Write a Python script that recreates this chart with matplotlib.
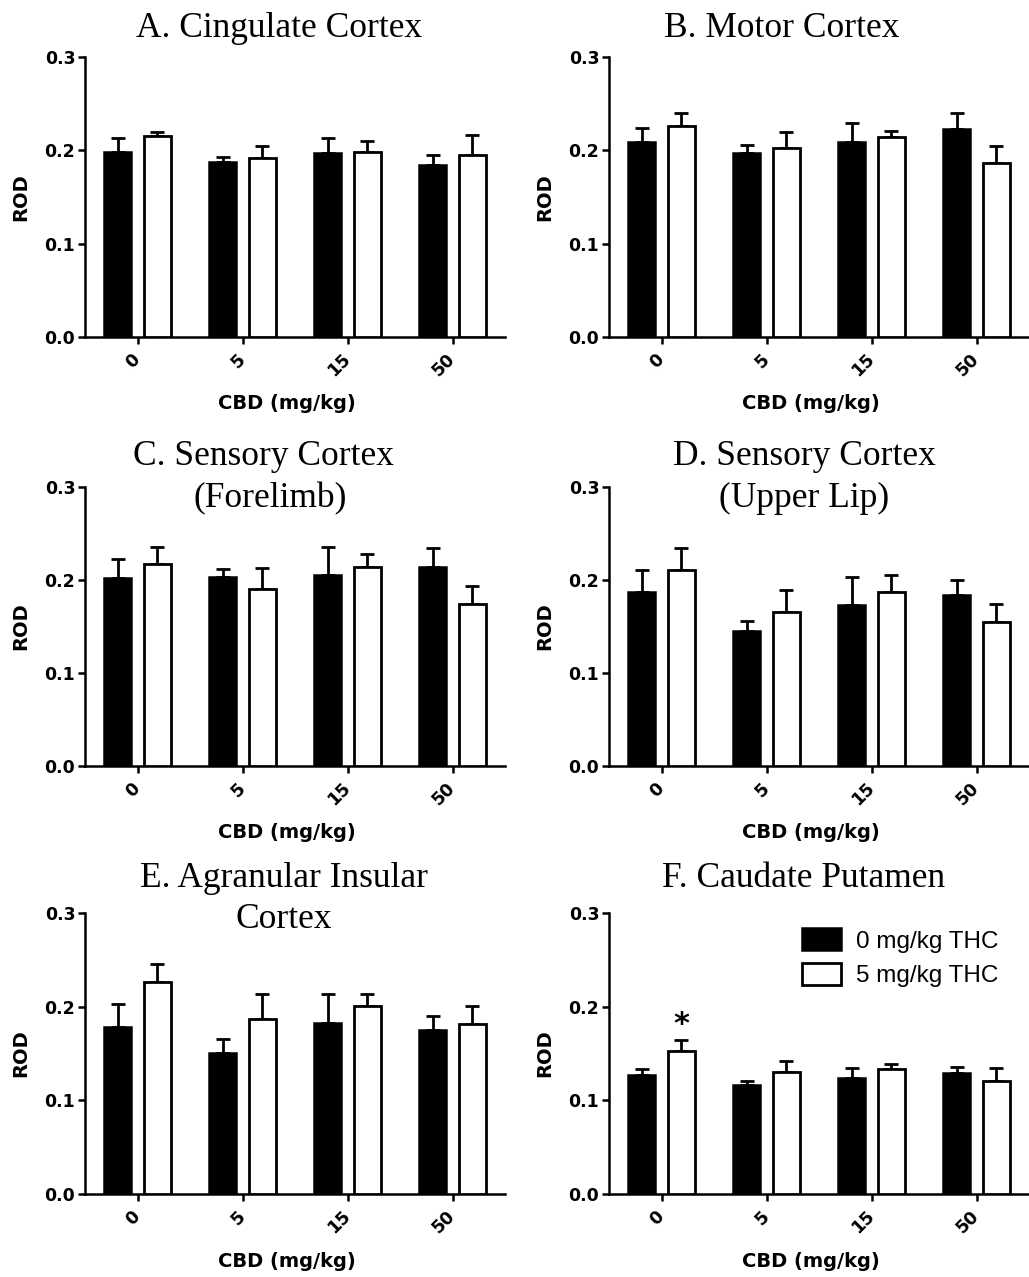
import numpy as np
import matplotlib.pyplot as plt

# CBD doses on the x axis
cbd_doses = ['0', '5', '15', '50']

# A. Cingulate cortex
cingulate_thc0 = [0.198, 0.187, 0.197, 0.184]
cingulate_thc0_sem = [0.015, 0.006, 0.016, 0.011]
cingulate_thc5 = [0.215, 0.192, 0.198, 0.195]
cingulate_thc5_sem = [0.005, 0.013, 0.012, 0.021]

# B. Motor cortex
motor_thc0 = [0.209, 0.197, 0.209, 0.223]
motor_thc0_sem = [0.015, 0.009, 0.020, 0.017]
motor_thc5 = [0.226, 0.202, 0.214, 0.186]
motor_thc5_sem = [0.014, 0.018, 0.007, 0.019]

# C. Sensory cortex (forelimb)
forelimb_thc0 = [0.202, 0.203, 0.205, 0.214]
forelimb_thc0_sem = [0.021, 0.009, 0.031, 0.020]
forelimb_thc5 = [0.217, 0.190, 0.214, 0.174]
forelimb_thc5_sem = [0.019, 0.023, 0.014, 0.020]

# D. Sensory cortex (upper lip)
lip_thc0 = [0.187, 0.145, 0.173, 0.184]
lip_thc0_sem = [0.024, 0.011, 0.030, 0.016]
lip_thc5 = [0.211, 0.166, 0.187, 0.155]
lip_thc5_sem = [0.023, 0.023, 0.018, 0.019]

# E. Agranular insular cortex
insular_thc0 = [0.178, 0.151, 0.183, 0.175]
insular_thc0_sem = [0.025, 0.014, 0.030, 0.015]
insular_thc5 = [0.226, 0.187, 0.201, 0.181]
insular_thc5_sem = [0.020, 0.026, 0.013, 0.020]

# F. Caudate putamen
caudate_thc0 = [0.127, 0.116, 0.124, 0.129]
caudate_thc0_sem = [0.006, 0.005, 0.011, 0.007]
caudate_thc5 = [0.153, 0.130, 0.133, 0.121]
caudate_thc5_sem = [0.011, 0.012, 0.006, 0.013]

legend_labels = ['0 mg/kg THC', '5 mg/kg THC']

W, H = 1029, 1277
fig = plt.figure(figsize=(W / 100, H / 100), dpi=100)

# axes boxes in pixels: left, top, bottom (width 420 for all)
boxes = [(85, 57, 337), (609, 57, 337),
         (85, 487, 766), (609, 487, 766),
         (85, 913, 1194), (609, 913, 1194)]

panels = [
    (cingulate_thc0, cingulate_thc0_sem, cingulate_thc5, cingulate_thc5_sem),
    (motor_thc0, motor_thc0_sem, motor_thc5, motor_thc5_sem),
    (forelimb_thc0, forelimb_thc0_sem, forelimb_thc5, forelimb_thc5_sem),
    (lip_thc0, lip_thc0_sem, lip_thc5, lip_thc5_sem),
    (insular_thc0, insular_thc0_sem, insular_thc5, insular_thc5_sem),
    (caudate_thc0, caudate_thc0_sem, caudate_thc5, caudate_thc5_sem),
]

# title lines: text, center x, baseline y (pixels)
titles = [
    [('A. Cingulate Cortex', 279, 37)],
    [('B. Motor Cortex', 782, 37)],
    [('C. Sensory Cortex', 263, 465), ('(Forelimb)', 270, 507)],
    [('D. Sensory Cortex', 804, 465), ('(Upper Lip)', 804, 507)],
    [('E. Agranular Insular', 284, 887), ('Cortex', 284, 928)],
    [('F. Caudate Putamen', 804, 887)],
]

bold = dict(family='DejaVu Sans', weight='bold')
x = np.arange(len(cbd_doses))
off = 0.19
bw = 0.262

for i, (box, data) in enumerate(zip(boxes, panels)):
    left, top, bottom = box
    ax = fig.add_axes([left / W, 1 - bottom / H, 420 / W, (bottom - top) / H])
    m0, e0, m5, e5 = data
    ax.bar(x - off, m0, bw, color='black', edgecolor='black', linewidth=1.8,
           label=legend_labels[0], zorder=3)
    ax.bar(x + off, m5, bw, color='white', edgecolor='black', linewidth=2.0,
           label=legend_labels[1], zorder=3)
    ax.errorbar(x - off, m0, yerr=[np.zeros(4), e0], fmt='none', ecolor='black',
                elinewidth=2.0, capsize=5, capthick=2.0, zorder=2)
    ax.errorbar(x + off, m5, yerr=[np.zeros(4), e5], fmt='none', ecolor='black',
                elinewidth=2.0, capsize=5, capthick=2.0, zorder=2)

    ax.set_xlim(-0.5, 3.5)
    ax.set_ylim(0, 0.3)
    ax.set_yticks([0, 0.1, 0.2, 0.3])
    ax.set_yticklabels(['0.0', '0.1', '0.2', '0.3'], fontsize=12.5, **bold)
    ax.set_xticks(x)
    ax.set_xticklabels(cbd_doses, fontsize=12.5, rotation=45, ha='right', va='center',
                       rotation_mode='anchor', **bold)
    for s in ['top', 'right']:
        ax.spines[s].set_visible(False)
    for s in ['left', 'bottom']:
        ax.spines[s].set_linewidth(1.8)
    ax.tick_params(axis='both', direction='out', length=5, width=1.8)
    ax.tick_params(axis='y', pad=2)
    ax.tick_params(axis='x', pad=9)

    ax.set_ylabel('ROD', fontsize=14, **bold)
    ax.yaxis.set_label_coords(-0.13, 0.5)
    ax.set_xlabel('CBD (mg/kg)', fontsize=14, **bold)
    ax.xaxis.set_label_coords(0.48, -0.205)

    for txt, cx, base in titles[i]:
        fig.text(cx / W, 1 - base / H, txt, ha='center', va='baseline',
                 fontsize=25.5, family='Liberation Serif')

    if i == 5:
        ax.text(x[0] + off, m5[0] + e5[0] + 0.002, '*', ha='center', va='bottom',
                fontsize=22, **bold)
        ax.legend(loc='upper left', bbox_to_anchor=(0.46, 0.945), frameon=False,
                  prop=dict(family='Liberation Sans', size=17.5), handlelength=1.6,
                  handleheight=1.0, handletextpad=0.6, labelspacing=0.42,
                  borderpad=0, borderaxespad=0)

fig.savefig('out.png', dpi=100)
